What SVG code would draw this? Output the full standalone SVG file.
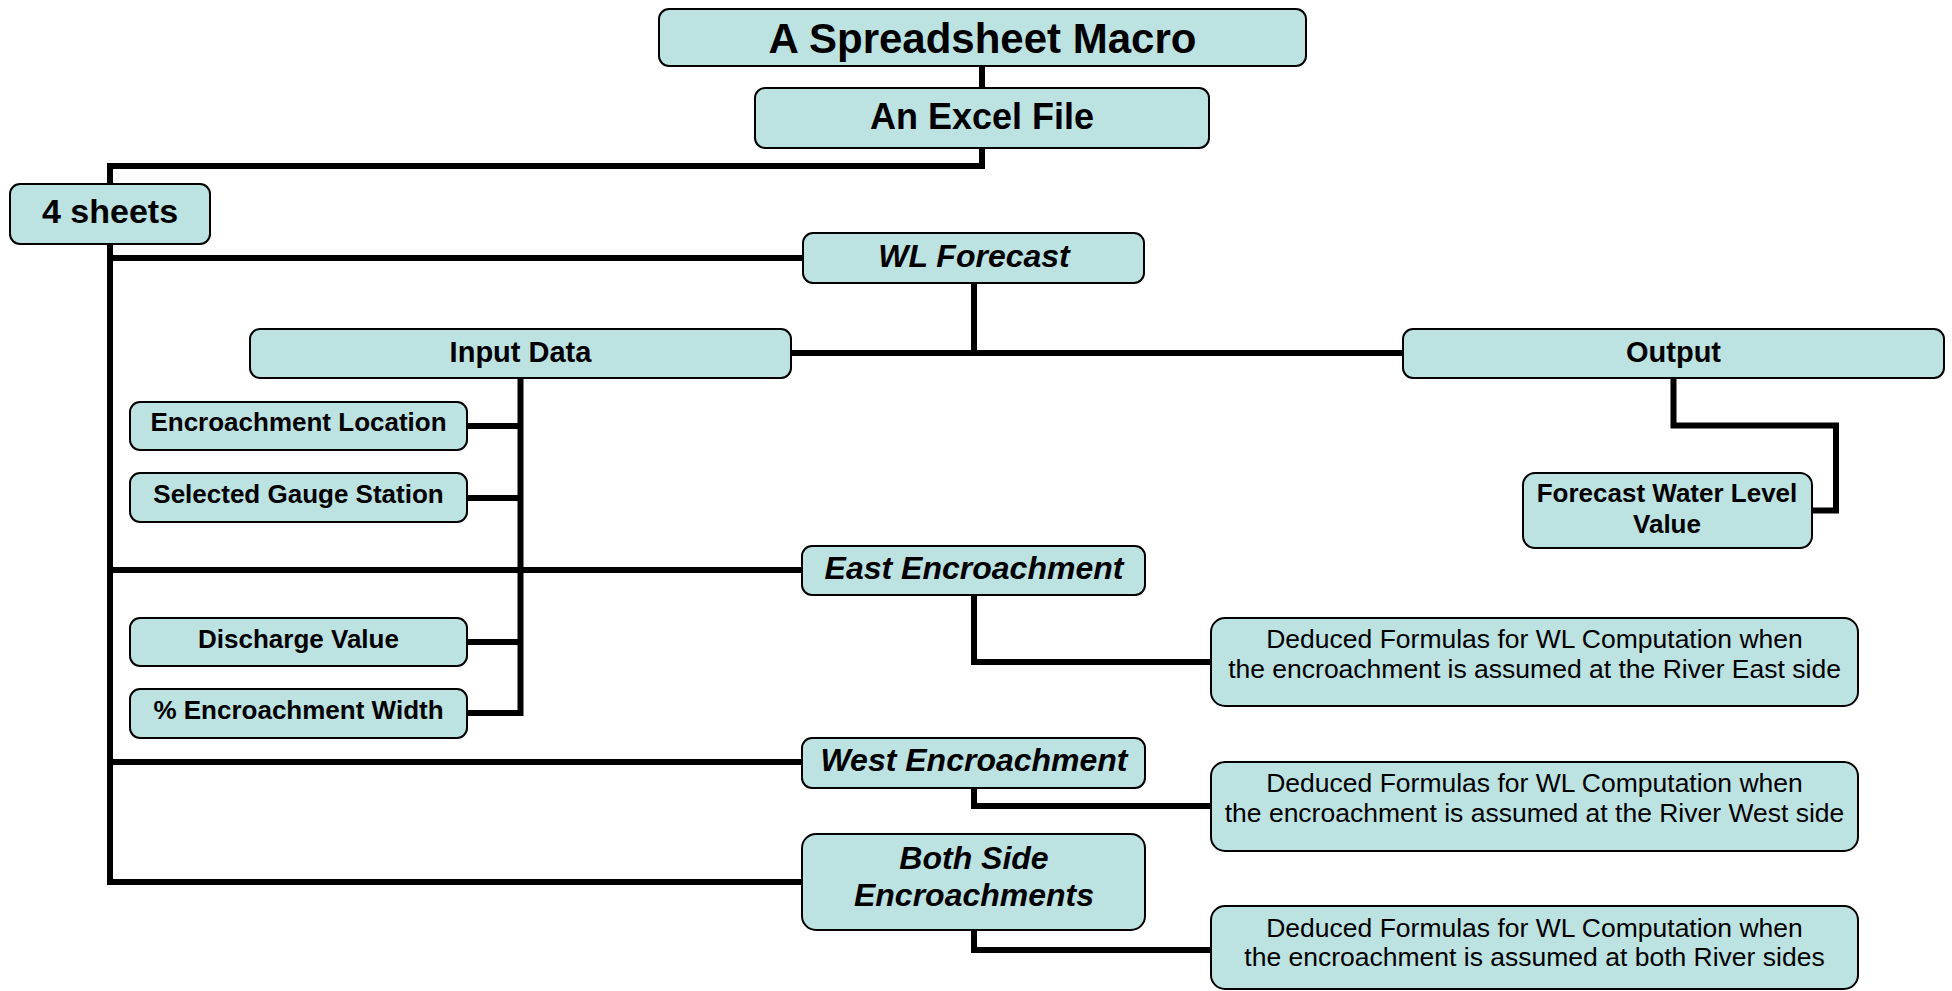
<svg xmlns="http://www.w3.org/2000/svg" width="1952" height="991" viewBox="0 0 1952 991">
<style>
.box{fill:#bce2e2;stroke:#000;stroke-width:2}
.t{font-family:"Liberation Sans",Arial,sans-serif;text-anchor:middle;fill:#000}
.b{font-weight:bold}
.i{font-style:italic;font-weight:bold}
.c{fill:none;stroke:#000;stroke-width:6;stroke-linejoin:miter;stroke-linecap:butt}
</style>
<rect width="1952" height="991" fill="#fff"/>
<g id="connectors">
<path class="c" d="M982 66V88"/>
<path class="c" d="M982 148V166H110V184"/>
<path class="c" d="M110 244V882H802"/>
<path class="c" d="M110 258H803"/>
<path class="c" d="M110 570H802"/>
<path class="c" d="M110 762H802"/>
<path class="c" d="M974 283V353"/>
<path class="c" d="M791 353H1403"/>
<path class="c" d="M520.5 378V713H467"/>
<path class="c" d="M467 426H521"/>
<path class="c" d="M467 498H521"/>
<path class="c" d="M467 642H521"/>
<path class="c" d="M1673.5 378V425.5H1836V510.5H1812"/>
<path class="c" d="M974 595V662H1211"/>
<path class="c" d="M974 788V806H1211"/>
<path class="c" d="M974 930V950H1211"/>
</g>
<g id="macro"><rect class="box" x="659" y="9" width="647" height="57" rx="10"/><text class="t b" x="982.5" y="52.5" font-size="42">A Spreadsheet Macro</text></g>
<g id="excel"><rect class="box" x="755" y="88" width="454" height="60" rx="10"/><text class="t b" x="982" y="128.5" font-size="36">An Excel File</text></g>
<g id="sheets"><rect class="box" x="10" y="184" width="200" height="60" rx="10"/><text class="t b" x="110" y="222.5" font-size="34">4 sheets</text></g>
<g id="wlforecast"><rect class="box" x="803" y="233" width="341" height="50" rx="10"/><text class="t i" x="974" y="267" font-size="32">WL Forecast</text></g>
<g id="inputdata"><rect class="box" x="250" y="329" width="541" height="49" rx="10"/><text class="t b" x="520.5" y="361.5" font-size="29">Input Data</text></g>
<g id="output"><rect class="box" x="1403" y="329" width="541" height="49" rx="10"/><text class="t b" x="1673.5" y="361.5" font-size="29">Output</text></g>
<g id="encloc"><rect class="box" x="130" y="402" width="337" height="48" rx="10"/><text class="t b" x="298.5" y="431" font-size="26">Encroachment Location</text></g>
<g id="gauge"><rect class="box" x="130" y="473" width="337" height="49" rx="10"/><text class="t b" x="298.5" y="502.5" font-size="26">Selected Gauge Station</text></g>
<g id="discharge"><rect class="box" x="130" y="618" width="337" height="48" rx="10"/><text class="t b" x="298.5" y="647.5" font-size="26">Discharge Value</text></g>
<g id="encwidth"><rect class="box" x="130" y="689" width="337" height="49" rx="10"/><text class="t b" x="298.5" y="718.5" font-size="26">% Encroachment Width</text></g>
<g id="forecastwl"><rect class="box" x="1523" y="473" width="289" height="75" rx="12"/><text class="t b" font-size="26"><tspan x="1667" y="502">Forecast Water Level</tspan><tspan x="1667" y="533">Value</tspan></text></g>
<g id="east"><rect class="box" x="802" y="546" width="343" height="49" rx="10"/><text class="t i" x="974" y="579" font-size="32">East Encroachment</text></g>
<g id="west"><rect class="box" x="802" y="738" width="343" height="50" rx="10"/><text class="t i" x="974" y="771" font-size="32">West Encroachment</text></g>
<g id="both"><rect class="box" x="802" y="834" width="343" height="96" rx="14"/><text class="t i" font-size="32"><tspan x="974" y="869">Both Side</tspan><tspan x="974" y="906">Encroachments</tspan></text></g>
<g id="deduced-east"><rect class="box" x="1211" y="618" width="647" height="88" rx="14"/><text class="t" font-size="26.5"><tspan x="1534.5" y="648">Deduced Formulas for WL Computation when</tspan><tspan x="1534.5" y="678">the encroachment is assumed at the River East side</tspan></text></g>
<g id="deduced-west"><rect class="box" x="1211" y="762" width="647" height="89" rx="14"/><text class="t" font-size="26.5"><tspan x="1534.5" y="792">Deduced Formulas for WL Computation when</tspan><tspan x="1534.5" y="822">the encroachment is assumed at the River West side</tspan></text></g>
<g id="deduced-both"><rect class="box" x="1211" y="906" width="647" height="83" rx="14"/><text class="t" font-size="26.5"><tspan x="1534.5" y="936.5">Deduced Formulas for WL Computation when</tspan><tspan x="1534.5" y="966">the encroachment is assumed at both River sides</tspan></text></g>
</svg>
